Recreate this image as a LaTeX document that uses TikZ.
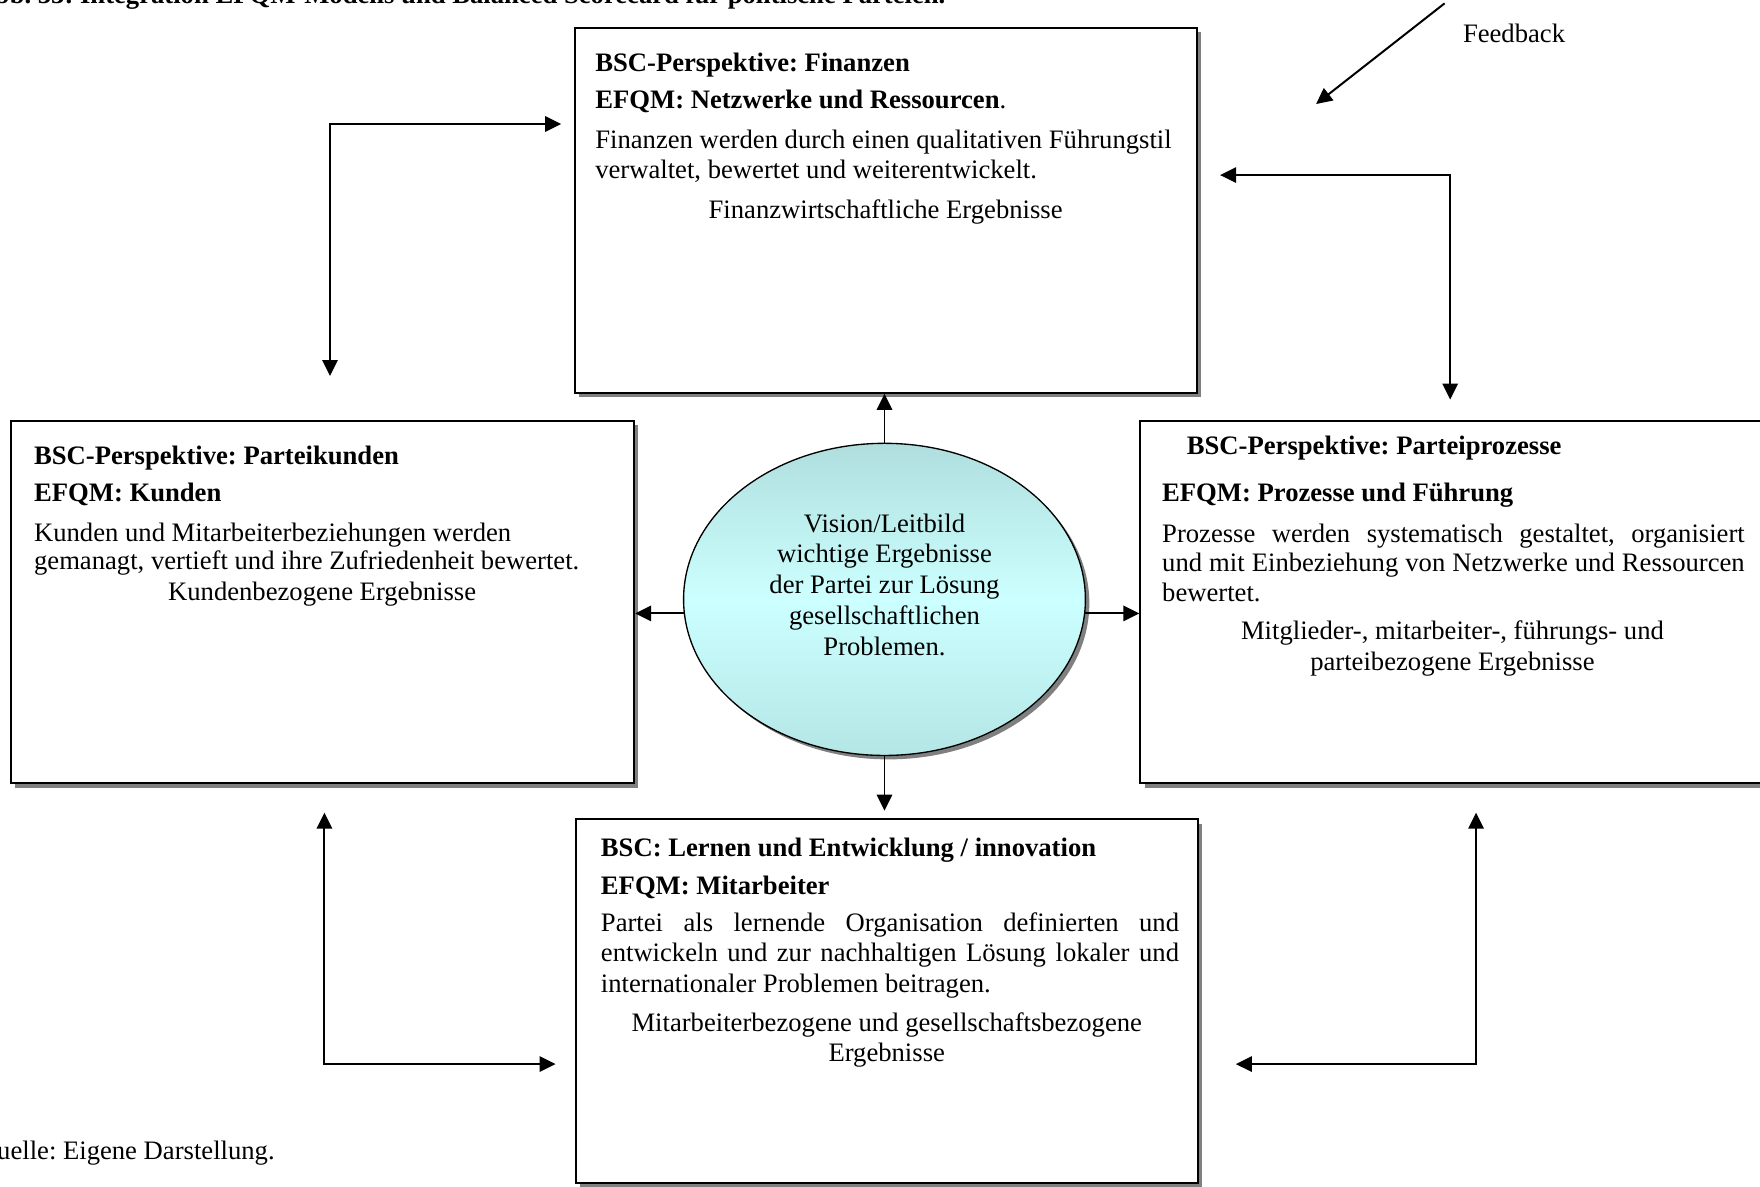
\documentclass[tikz,border=0pt]{standalone}
\usepackage{fontspec}
\setmainfont{Liberation Serif}
\usetikzlibrary{arrows.meta,shapes.geometric,fit,shadows}

\definecolor{shadowgray}{RGB}{128,128,128}
\definecolor{ellTop}{RGB}{176,222,222}
\definecolor{ellMid}{RGB}{204,255,255}
\definecolor{ellBot}{RGB}{180,230,230}

\frenchspacing

\begin{document}
\begin{tikzpicture}[x=0.5056pt, y=-0.5056pt,
  txt/.style={anchor=base west, inner sep=0pt, font=\fontsize{12}{13.8}\selectfont},
  btxt/.style={txt, font=\bfseries\fontsize{12}{13.8}\selectfont},
  ctxt/.style={txt, anchor=base},
  box/.style={draw, line width=0.9pt, fill=white, inner sep=0pt,
    general shadow={fill=shadowgray, shadow xshift=1.9pt, shadow yshift=-1.9pt}},
  tip/.tip={Triangle[length=7.2pt,width=6.9pt]},
  arr/.style={line width=0.9pt, -tip},
  dblarr/.style={line width=0.9pt, tip-tip},
]
\useasboundingbox (0,0) rectangle (1568,1057);
\clip (0,0) rectangle (1568,1057);

% caption lines
\node[btxt] (title) at (-22,3) {Abb. 33: Integration EFQM-Modells und Balanced Scorecard für politische Parteien.};
\node[txt] (src) at (-20,1033) {Quelle: Eigene Darstellung.};

% the four perspective boxes
\node[box, fit={(512,25) (1066,350)}] (fin) {};
\node[box, fit={(10,375) (565,698)}] (kund) {};
\node[box, fit={(1016,375) (1590,698)}] (proz) {};
\node[box, fit={(513,730) (1067,1054)}] (lern) {};

% central vision ellipse with its shadow
\node[ellipse, fill=shadowgray, minimum width=181pt, minimum height=140.6pt, inner sep=0pt] (ellsh) at (791.5,537.5) {};
\node[ellipse, draw, line width=0.6pt, top color=ellTop, bottom color=ellBot, middle color=ellMid,
      minimum width=181pt, minimum height=140.6pt, inner sep=0pt] (ell) at (788,534) {};
\node[align=center, inner sep=0pt, font=\fontsize{12}{13.9}\selectfont] (vis) at (788,521)
  {Vision/Leitbild\\wichtige Ergebnisse\\der Partei zur Lösung\\gesellschaftlichen\\Problemen.};

% arrows from the vision to the perspectives
\draw[arr] (ell.north) -- (ell.north |- fin.south);
\draw[arr, shorten >=3.5pt] (ell.south) -- (ell.south |- lern.north);
\draw[arr] (ell.184) -- (ell.184 -| kund.east);
\draw[arr] (ell.356) -- (ell.356 -| proz.west);

% elbow connectors between neighbouring perspectives
\coordinate (tlv) at (294,335);
\coordinate (tlh) at (500,110.5);
\draw[dblarr] (tlv) |- (tlh);
\coordinate (trh) at (1087,156);
\coordinate (trv) at (1292,356);
\draw[dblarr] (trh) -| (trv);
\coordinate (blv) at (289,724);
\coordinate (blh) at (495,948);
\draw[dblarr] (blv) |- (blh);
\coordinate (brv) at (1315,724);
\coordinate (brh) at (1101,948);
\draw[dblarr] (brv) |- (brh);

% feedback
\coordinate (fbs) at (1287,3);
\coordinate (fbe) at (1172.5,92.7);
\draw[arr] (fbs) -- (fbe);
\node[txt] (fbl) at (1303,38) {Feedback};

% Finanzen
\node[btxt] (fin1) at (530,64) {BSC-Perspektive: Finanzen};
\node[txt] (fin2) at (530,97) {\textbf{EFQM: Netzwerke und Ressourcen}.};
\node[txt] (fin3) at (530,132) {Finanzen werden durch einen qualitativen Führungstil};
\node[txt] (fin4) at (530,159) {verwaltet, bewertet und weiterentwickelt.};
\node[ctxt] (fin5) at (789,194.5) {Finanzwirtschaftliche Ergebnisse};

% Parteikunden
\node[btxt] (kund1) at (30,414) {BSC-Perspektive: Parteikunden};
\node[btxt] (kund2) at (30,447) {EFQM: Kunden};
\node[txt] (kund3) at (30,482) {Kunden und Mitarbeiterbeziehungen werden};
\node[txt] (kund4) at (30,507) {gemanagt, vertieft und ihre Zufriedenheit bewertet.};
\node[ctxt] (kund5) at (287,535) {Kundenbezogene Ergebnisse};

% Parteiprozesse
\node[btxt] (proz1) at (1057,405) {BSC-Perspektive: Parteiprozesse};
\node[btxt] (proz2) at (1035,447) {EFQM: Prozesse und Führung};
\node[txt] (proz3) at (1035,483) {\makebox[262.4pt][s]{Prozesse werden systematisch gestaltet, organisiert}};
\node[txt] (proz4) at (1035,509.5) {\makebox[262.4pt][s]{und mit Einbeziehung von Netzwerke und Ressourcen}};
\node[txt] (proz5) at (1035,536) {bewertet.};
\node[ctxt] (proz6) at (1294,570) {Mitglieder-, mitarbeiter-, führungs- und};
\node[ctxt] (proz7) at (1294,597) {parteibezogene Ergebnisse};

% Lernen und Entwicklung
\node[btxt] (lern1) at (535,763) {BSC: Lernen und Entwicklung / innovation};
\node[btxt] (lern2) at (535,797) {EFQM: Mitarbeiter};
\node[txt] (lern3) at (535,830) {\makebox[260.4pt][s]{Partei als lernende Organisation definierten und}};
\node[txt] (lern4) at (535,857) {\makebox[260.4pt][s]{entwickeln und zur nachhaltigen Lösung lokaler und}};
\node[txt] (lern5) at (535,884) {internationaler Problemen beitragen.};
\node[ctxt] (lern6) at (790,919) {Mitarbeiterbezogene und gesellschaftsbezogene};
\node[ctxt] (lern7) at (790,946) {Ergebnisse};
\end{tikzpicture}
\end{document}
